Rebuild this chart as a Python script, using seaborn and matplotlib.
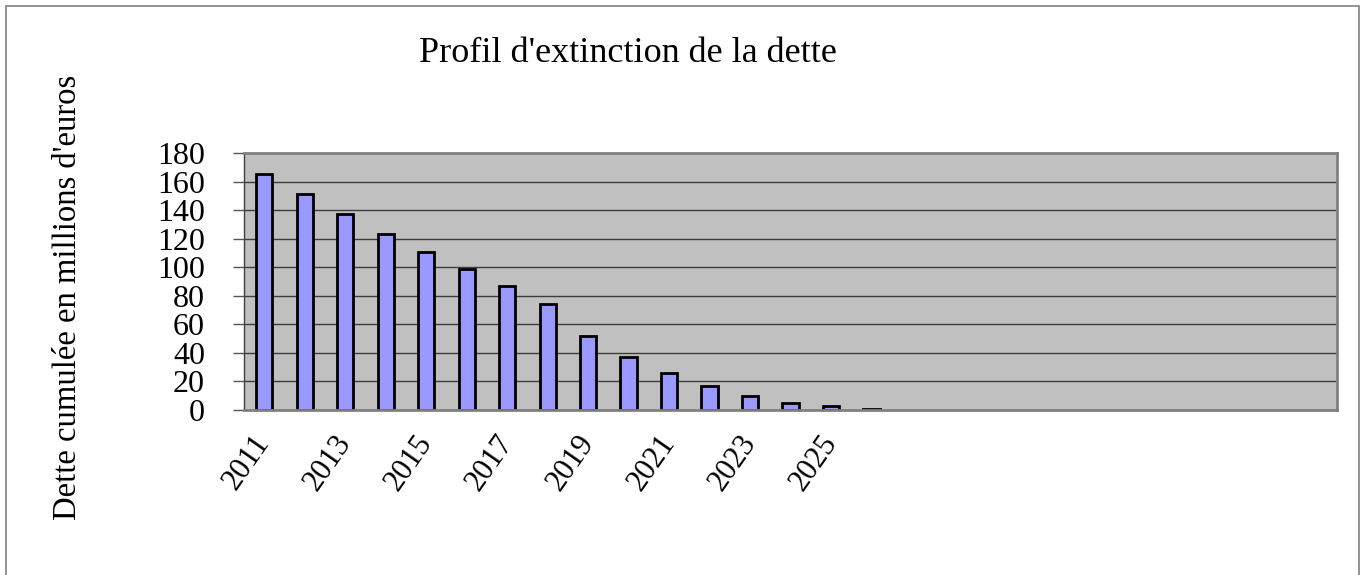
import matplotlib
matplotlib.use("Agg")
import matplotlib.pyplot as plt
from matplotlib.patches import Rectangle
import seaborn as sns
import pandas as pd

# Remaining debt by year (millions of euros)
annees = [2011, 2012, 2013, 2014, 2015, 2016, 2017, 2018,
          2019, 2020, 2021, 2022, 2023, 2024, 2025, 2026]
dette = [165, 151, 137, 123, 111, 99, 87, 74,
         52, 37, 26, 17, 10, 5, 2.5, 1]
# Horizon of the category axis and the years that carry a label
horizon = list(range(2011, 2038))
annees_etiquetees = [2011, 2013, 2015, 2017, 2019, 2021, 2023, 2025]
graduations_y = [0, 20, 40, 60, 80, 100, 120, 140, 160, 180]

titre = "Profil d'extinction de la dette"
titre_y = "Dette cumulée en millions d'euros"

sns.set_theme(style="white")
plt.rcParams["font.family"] = ["Liberation Serif", "DejaVu Serif"]
plt.rcParams["text.color"] = "black"

df = pd.DataFrame({"annee": [str(a) for a in annees], "dette": dette})
ordre = [str(a) for a in horizon]

fig = plt.figure(figsize=(13.61, 5.75), dpi=100)
ax = fig.add_axes([244 / 1361, 1 - 410 / 575, (1337 - 244) / 1361, (410 - 153) / 575])

sns.barplot(data=df, x="annee", y="dette", order=ordre, color="#9999ff",
            saturation=1, width=0.4, edgecolor="black", linewidth=2, ax=ax)

ax.set_facecolor("#c0c0c0")
ax.set_ylim(0, 180)
ax.set_yticks(graduations_y)
ax.yaxis.grid(True, color="#3c3c3c", linewidth=1.0)
ax.set_axisbelow(True)
ax.tick_params(axis="y", labelsize=23, length=8, width=1, color="#555555",
               pad=20, left=True, labelcolor="black")
ax.set_xlim(-0.5, len(ordre) - 0.5)
ax.set_xticks([ordre.index(str(a)) for a in annees_etiquetees])
ax.set_xticklabels([str(a) for a in annees_etiquetees])
ax.tick_params(axis="x", labelsize=22, length=0, pad=20, labelcolor="black")
for lab in ax.get_xticklabels():
    lab.set_rotation(55)
    lab.set_ha("right")
    lab.set_va("center")
    lab.set_rotation_mode("anchor")
ax.set_xlabel("")
ax.set_ylabel("")

for side in ("top", "right", "bottom"):
    ax.spines[side].set_color("#808080")
    ax.spines[side].set_linewidth(2)
    ax.spines[side].set_visible(True)
ax.spines["left"].set_color("#404040")
ax.spines["left"].set_linewidth(1)
ax.spines["left"].set_visible(True)

fig.text(628 / 1361, 1 - 62 / 575, titre, ha="center", va="baseline",
         fontsize=26, color="black")
fig.text(68 / 1361, 1 - 297 / 575, titre_y, rotation=90, ha="center",
         va="center", fontsize=23.5, color="black")

# Outer chart frame
fig.patches.append(Rectangle((6 / 1361, -0.05), (1359 - 6) / 1361, 1.05 - 6 / 575,
                             transform=fig.transFigure, fill=False,
                             edgecolor="#808080", linewidth=1.2))

fig.savefig("out.png", dpi=100, facecolor="white")
